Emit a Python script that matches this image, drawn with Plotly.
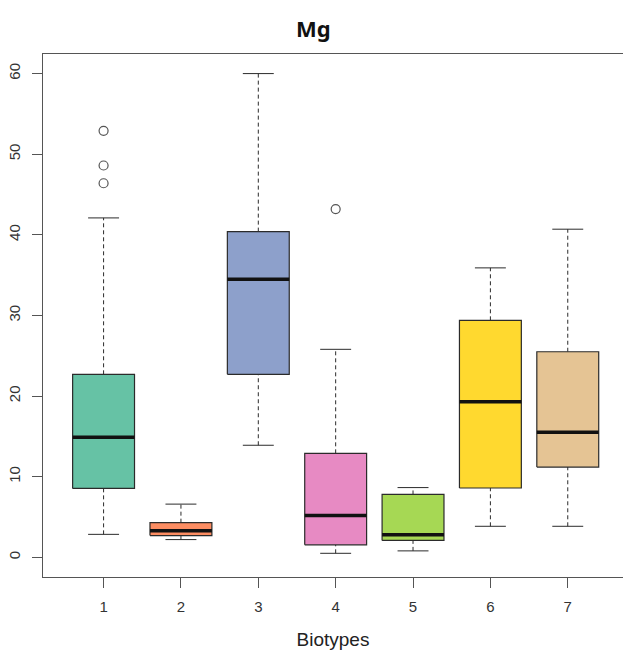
import plotly.graph_objects as go

# Mg concentration by biotype: five-number summaries and outliers
biotypes = [1, 2, 3, 4, 5, 6, 7]
lower_whisker = [2.85, 2.2, 13.9, 0.5, 0.8, 3.85, 3.85]
q1 = [8.55, 2.7, 22.7, 1.55, 2.1, 8.6, 11.2]
median = [14.9, 3.3, 34.5, 5.2, 2.8, 19.3, 15.5]
q3 = [22.7, 4.3, 40.4, 12.9, 7.8, 29.4, 25.5]
upper_whisker = [42.1, 6.6, 60.0, 25.8, 8.65, 35.9, 40.7]
outlier_biotype = [1, 1, 1, 4]
outlier_value = [52.9, 48.6, 46.4, 43.2]
x_tick_labels = ["1", "2", "3", "4", "5", "6", "7"]
y_tick_values = [0, 10, 20, 30, 40, 50, 60]

fill_colors = ["#66C2A5", "#FC8D62", "#8DA0CB", "#E78AC3",
               "#A6D854", "#FFD92F", "#E5C494"]

BOX_HALF = 0.4
CAP_HALF = 0.2
INK = "#2b2b2b"
AXIS = "#555555"

fig = go.Figure()

# dashed whiskers
wx, wy = [], []
for x, lo, a, b, hi in zip(biotypes, lower_whisker, q1, q3, upper_whisker):
    wx += [x, x, None, x, x, None]
    wy += [lo, a, None, b, hi, None]
fig.add_trace(go.Scatter(x=wx, y=wy, mode="lines",
                         line=dict(color=INK, width=1, dash="4px,3px"),
                         hoverinfo="skip", showlegend=False))

# whisker caps
cx, cy = [], []
for x, lo, hi in zip(biotypes, lower_whisker, upper_whisker):
    cx += [x - CAP_HALF, x + CAP_HALF, None, x - CAP_HALF, x + CAP_HALF, None]
    cy += [lo, lo, None, hi, hi, None]
fig.add_trace(go.Scatter(x=cx, y=cy, mode="lines",
                         line=dict(color=INK, width=1),
                         hoverinfo="skip", showlegend=False))

# boxes
for x, a, b, col in zip(biotypes, q1, q3, fill_colors):
    fig.add_trace(go.Scatter(
        x=[x - BOX_HALF, x + BOX_HALF, x + BOX_HALF, x - BOX_HALF, x - BOX_HALF],
        y=[a, a, b, b, a],
        mode="lines", fill="toself", fillcolor=col,
        line=dict(color=INK, width=1.2),
        hoverinfo="skip", showlegend=False))

# medians
mx, my = [], []
for x, m in zip(biotypes, median):
    mx += [x - BOX_HALF, x + BOX_HALF, None]
    my += [m, m, None]
fig.add_trace(go.Scatter(x=mx, y=my, mode="lines",
                         line=dict(color="#111111", width=3.5),
                         hoverinfo="skip", showlegend=False))

# outliers
fig.add_trace(go.Scatter(x=outlier_biotype, y=outlier_value, mode="markers",
                         marker=dict(symbol="circle-open", size=9,
                                     color="#555555", line=dict(width=1.2)),
                         hoverinfo="skip", showlegend=False))

fig.update_layout(
    width=623, height=659,
    margin=dict(l=43, r=0, t=53.5, b=82.3),
    paper_bgcolor="white", plot_bgcolor="white",
    font=dict(family="Liberation Sans, Arial, sans-serif", color="#333333"),
    title=dict(text="<b>Mg</b>", x=0.503, xanchor="center",
               y=1 - 29 / 659, yanchor="middle",
               font=dict(family="Noto Sans, sans-serif", size=22, color="#111111")),
    xaxis=dict(range=[0.217, 7.714], tickmode="array", tickvals=biotypes,
               ticktext=x_tick_labels, ticks="outside", ticklen=10,
               tickcolor=AXIS, tickwidth=1, showgrid=False, zeroline=False,
               showline=True, linecolor=AXIS, linewidth=1.2, mirror=True,
               ticklabelstandoff=6,
               tickfont=dict(size=15, color="#333333"),
               title=dict(text="Biotypes", standoff=18,
                          font=dict(size=19, color="#222222"))),
    yaxis=dict(range=[-2.44, 62.43], tickmode="array", tickvals=y_tick_values,
               ticks="outside", ticklen=10, tickcolor=AXIS, tickwidth=1,
               tickangle=-90, showgrid=False, zeroline=False,
               showline=True, linecolor=AXIS, linewidth=1.2, mirror=False,
               ticklabelstandoff=6,
               tickfont=dict(size=15, color="#333333")),
)

fig.write_html("out.html")
